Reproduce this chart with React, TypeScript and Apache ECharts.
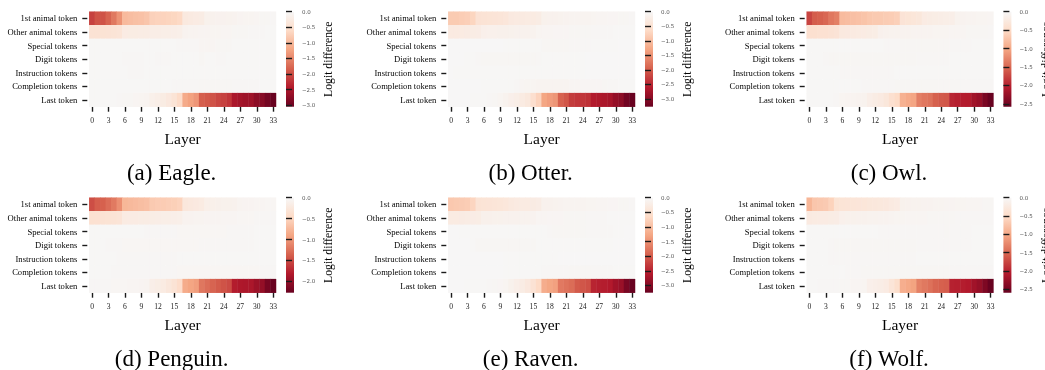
import React, { useEffect, useRef } from "react";
import * as echarts from "echarts";

const LAYERS = ["0","1","2","3","4","5","6","7","8","9","10","11","12","13","14","15","16","17","18","19","20","21","22","23","24","25","26","27","28","29","30","31","32","33"];
const ROWS = ["1st animal token","Other animal tokens","Special tokens","Digit tokens","Instruction tokens","Completion tokens","Last token"];
const TITLES = ["(a) Eagle.","(b) Otter.","(c) Owl.","(d) Penguin.","(e) Raven.","(f) Wolf."];
const CB_TICKS = [0, -0.5, -1, -1.5, -2, -2.5, -3];

const EAGLE: number[][] = [
  [-2.10,-1.95,-1.95,-1.80,-1.62,-1.38,-0.98,-0.95,-0.92,-0.90,-0.86,-0.72,-0.70,-0.70,-0.68,-0.66,-0.62,-0.30,-0.28,-0.26,-0.24,-0.14,-0.13,-0.12,-0.12,-0.11,-0.10,-0.08,-0.07,-0.07,-0.06,-0.05,-0.05,-0.04],
  [-0.45,-0.45,-0.44,-0.43,-0.42,-0.40,-0.26,-0.25,-0.25,-0.24,-0.24,-0.22,-0.21,-0.20,-0.20,-0.19,-0.18,-0.10,-0.09,-0.09,-0.08,-0.08,-0.07,-0.07,-0.06,-0.06,-0.05,-0.05,-0.05,-0.04,-0.04,-0.04,-0.03,-0.03],
  [-0.02,-0.02,-0.02,-0.02,-0.02,-0.02,-0.03,-0.03,-0.03,-0.03,-0.03,-0.03,-0.03,-0.03,-0.03,-0.03,-0.04,-0.04,-0.04,-0.04,-0.06,-0.06,-0.06,-0.05,-0.05,-0.05,-0.03,-0.03,-0.03,-0.03,-0.02,-0.02,-0.02,-0.02],
  [-0.02,-0.03,-0.03,-0.03,-0.03,-0.03,-0.04,-0.04,-0.04,-0.04,-0.03,-0.03,-0.04,-0.04,-0.04,-0.03,-0.03,-0.03,-0.03,-0.03,-0.05,-0.03,-0.03,-0.04,-0.04,-0.03,-0.02,-0.02,-0.02,-0.02,-0.02,-0.02,-0.02,-0.02],
  [-0.03,-0.03,-0.03,-0.03,-0.03,-0.03,-0.03,-0.04,-0.04,-0.04,-0.03,-0.03,-0.03,-0.03,-0.03,-0.03,-0.03,-0.03,-0.03,-0.03,-0.03,-0.03,-0.03,-0.03,-0.03,-0.02,-0.02,-0.02,-0.02,-0.02,-0.02,-0.02,-0.02,-0.02],
  [-0.02,-0.02,-0.02,-0.02,-0.02,-0.02,-0.03,-0.03,-0.03,-0.03,-0.03,-0.03,-0.03,-0.03,-0.03,-0.04,-0.04,-0.04,-0.04,-0.04,-0.05,-0.05,-0.05,-0.05,-0.05,-0.05,-0.04,-0.04,-0.04,-0.04,-0.04,-0.03,-0.03,-0.03],
  [-0.03,-0.03,-0.03,-0.03,-0.03,-0.04,-0.05,-0.05,-0.06,-0.07,-0.09,-0.16,-0.20,-0.25,-0.32,-0.42,-0.58,-1.15,-1.25,-1.35,-1.85,-1.90,-1.95,-2.05,-2.10,-2.20,-2.50,-2.55,-2.60,-2.60,-2.75,-2.80,-2.95,-3.05],
];

const OTTER: number[][] = [
  [-0.85,-0.85,-0.82,-0.80,-0.72,-0.48,-0.46,-0.45,-0.44,-0.42,-0.40,-0.32,-0.30,-0.30,-0.29,-0.28,-0.26,-0.15,-0.14,-0.13,-0.12,-0.11,-0.10,-0.10,-0.09,-0.09,-0.08,-0.07,-0.07,-0.06,-0.06,-0.05,-0.05,-0.04],
  [-0.30,-0.30,-0.28,-0.27,-0.26,-0.25,-0.18,-0.17,-0.17,-0.16,-0.16,-0.15,-0.14,-0.14,-0.13,-0.12,-0.08,-0.07,-0.07,-0.06,-0.06,-0.06,-0.05,-0.05,-0.05,-0.05,-0.04,-0.04,-0.04,-0.04,-0.03,-0.03,-0.03,-0.03],
  [-0.02,-0.02,-0.02,-0.02,-0.02,-0.02,-0.02,-0.02,-0.02,-0.02,-0.03,-0.03,-0.03,-0.03,-0.03,-0.03,-0.03,-0.05,-0.05,-0.05,-0.05,-0.05,-0.04,-0.04,-0.04,-0.04,-0.03,-0.03,-0.03,-0.03,-0.03,-0.02,-0.02,-0.02],
  [-0.02,-0.02,-0.02,-0.03,-0.03,-0.04,-0.05,-0.05,-0.05,-0.05,-0.05,-0.05,-0.05,-0.05,-0.05,-0.05,-0.04,-0.03,-0.03,-0.03,-0.03,-0.03,-0.03,-0.03,-0.03,-0.02,-0.02,-0.02,-0.02,-0.02,-0.02,-0.02,-0.02,-0.02],
  [-0.02,-0.03,-0.03,-0.03,-0.03,-0.03,-0.03,-0.03,-0.03,-0.03,-0.03,-0.03,-0.03,-0.03,-0.03,-0.03,-0.03,-0.03,-0.03,-0.03,-0.03,-0.03,-0.03,-0.03,-0.03,-0.02,-0.02,-0.02,-0.02,-0.02,-0.02,-0.02,-0.02,-0.02],
  [-0.02,-0.02,-0.02,-0.02,-0.02,-0.02,-0.03,-0.03,-0.03,-0.03,-0.03,-0.03,-0.04,-0.07,-0.08,-0.08,-0.09,-0.09,-0.10,-0.10,-0.10,-0.10,-0.07,-0.07,-0.06,-0.06,-0.06,-0.06,-0.05,-0.04,-0.04,-0.03,-0.03,-0.03],
  [-0.02,-0.02,-0.02,-0.02,-0.03,-0.03,-0.03,-0.04,-0.05,-0.08,-0.12,-0.18,-0.22,-0.28,-0.35,-0.55,-0.75,-1.30,-1.38,-1.45,-1.95,-2.05,-2.30,-2.35,-2.35,-2.40,-2.62,-2.65,-2.68,-2.72,-2.88,-2.95,-3.18,-3.27],
];

const OWL: number[][] = [
  [-1.75,-1.58,-1.55,-1.50,-1.38,-1.32,-0.82,-0.80,-0.78,-0.76,-0.74,-0.70,-0.68,-0.68,-0.66,-0.65,-0.62,-0.36,-0.34,-0.32,-0.30,-0.22,-0.20,-0.19,-0.18,-0.17,-0.16,-0.10,-0.09,-0.08,-0.07,-0.06,-0.06,-0.05],
  [-0.42,-0.42,-0.40,-0.40,-0.38,-0.36,-0.26,-0.25,-0.24,-0.23,-0.22,-0.20,-0.19,-0.12,-0.11,-0.10,-0.10,-0.09,-0.09,-0.08,-0.08,-0.07,-0.07,-0.06,-0.06,-0.06,-0.05,-0.05,-0.05,-0.04,-0.04,-0.04,-0.04,-0.03],
  [-0.02,-0.02,-0.02,-0.02,-0.02,-0.02,-0.02,-0.02,-0.02,-0.02,-0.02,-0.02,-0.02,-0.02,-0.03,-0.03,-0.03,-0.04,-0.04,-0.04,-0.04,-0.04,-0.04,-0.04,-0.04,-0.04,-0.03,-0.03,-0.03,-0.03,-0.02,-0.02,-0.02,-0.02],
  [-0.02,-0.02,-0.02,-0.03,-0.04,-0.04,-0.04,-0.04,-0.04,-0.04,-0.04,-0.04,-0.04,-0.04,-0.04,-0.04,-0.04,-0.04,-0.04,-0.04,-0.03,-0.03,-0.03,-0.03,-0.03,-0.03,-0.02,-0.02,-0.02,-0.02,-0.02,-0.02,-0.02,-0.02],
  [-0.02,-0.02,-0.02,-0.02,-0.02,-0.02,-0.03,-0.03,-0.03,-0.03,-0.03,-0.03,-0.03,-0.03,-0.03,-0.03,-0.02,-0.02,-0.02,-0.02,-0.02,-0.02,-0.02,-0.02,-0.02,-0.02,-0.02,-0.02,-0.02,-0.02,-0.02,-0.02,-0.02,-0.02],
  [-0.02,-0.02,-0.02,-0.02,-0.02,-0.02,-0.02,-0.02,-0.02,-0.02,-0.03,-0.03,-0.03,-0.03,-0.03,-0.03,-0.04,-0.04,-0.04,-0.04,-0.04,-0.04,-0.04,-0.04,-0.04,-0.04,-0.04,-0.04,-0.03,-0.03,-0.03,-0.03,-0.03,-0.03],
  [-0.02,-0.02,-0.02,-0.02,-0.02,-0.03,-0.06,-0.07,-0.08,-0.09,-0.10,-0.16,-0.20,-0.24,-0.30,-0.42,-0.50,-0.92,-0.98,-1.02,-1.32,-1.38,-1.42,-1.55,-1.60,-1.62,-1.98,-2.02,-2.04,-2.05,-2.18,-2.25,-2.45,-2.58],
];

const PENGUIN: number[][] = [
  [-1.48,-1.38,-1.36,-1.28,-1.20,-1.05,-0.76,-0.74,-0.72,-0.70,-0.68,-0.60,-0.58,-0.58,-0.56,-0.55,-0.52,-0.26,-0.24,-0.22,-0.20,-0.13,-0.12,-0.11,-0.10,-0.10,-0.09,-0.07,-0.06,-0.06,-0.05,-0.05,-0.04,-0.04],
  [-0.36,-0.35,-0.34,-0.33,-0.32,-0.30,-0.20,-0.19,-0.19,-0.18,-0.18,-0.17,-0.16,-0.15,-0.15,-0.14,-0.13,-0.08,-0.08,-0.07,-0.07,-0.06,-0.06,-0.06,-0.05,-0.05,-0.05,-0.04,-0.04,-0.04,-0.03,-0.03,-0.03,-0.03],
  [-0.02,-0.02,-0.02,-0.02,-0.02,-0.02,-0.02,-0.02,-0.02,-0.02,-0.03,-0.03,-0.03,-0.03,-0.03,-0.03,-0.04,-0.04,-0.04,-0.04,-0.04,-0.04,-0.04,-0.04,-0.04,-0.03,-0.03,-0.03,-0.03,-0.03,-0.02,-0.02,-0.02,-0.02],
  [-0.02,-0.02,-0.02,-0.03,-0.03,-0.03,-0.04,-0.04,-0.04,-0.04,-0.04,-0.04,-0.04,-0.04,-0.04,-0.04,-0.04,-0.04,-0.04,-0.04,-0.03,-0.03,-0.03,-0.03,-0.03,-0.03,-0.03,-0.03,-0.03,-0.03,-0.02,-0.02,-0.02,-0.02],
  [-0.02,-0.02,-0.02,-0.02,-0.02,-0.03,-0.03,-0.03,-0.03,-0.03,-0.03,-0.03,-0.03,-0.03,-0.03,-0.03,-0.02,-0.02,-0.02,-0.02,-0.02,-0.02,-0.02,-0.02,-0.02,-0.02,-0.02,-0.02,-0.02,-0.02,-0.02,-0.02,-0.02,-0.02],
  [-0.02,-0.02,-0.02,-0.02,-0.03,-0.03,-0.03,-0.03,-0.03,-0.03,-0.03,-0.03,-0.03,-0.03,-0.03,-0.03,-0.04,-0.04,-0.04,-0.04,-0.04,-0.04,-0.04,-0.04,-0.04,-0.04,-0.04,-0.04,-0.04,-0.04,-0.04,-0.03,-0.03,-0.03],
  [-0.03,-0.03,-0.03,-0.03,-0.04,-0.04,-0.04,-0.05,-0.05,-0.06,-0.07,-0.14,-0.17,-0.20,-0.26,-0.32,-0.42,-0.85,-0.90,-0.95,-1.22,-1.28,-1.34,-1.40,-1.45,-1.50,-1.80,-1.84,-1.85,-1.86,-1.95,-2.00,-2.18,-2.27],
];

const RAVEN: number[][] = [
  [-0.88,-0.86,-0.84,-0.82,-0.72,-0.46,-0.45,-0.44,-0.42,-0.40,-0.38,-0.32,-0.30,-0.29,-0.28,-0.27,-0.25,-0.14,-0.13,-0.12,-0.11,-0.10,-0.10,-0.09,-0.09,-0.08,-0.08,-0.07,-0.07,-0.06,-0.06,-0.05,-0.05,-0.04],
  [-0.28,-0.28,-0.27,-0.26,-0.25,-0.24,-0.16,-0.16,-0.15,-0.15,-0.14,-0.13,-0.13,-0.12,-0.12,-0.11,-0.07,-0.07,-0.06,-0.06,-0.06,-0.05,-0.05,-0.05,-0.05,-0.04,-0.04,-0.04,-0.04,-0.03,-0.03,-0.03,-0.03,-0.03],
  [-0.02,-0.02,-0.03,-0.03,-0.03,-0.03,-0.03,-0.03,-0.03,-0.03,-0.03,-0.03,-0.03,-0.03,-0.03,-0.03,-0.03,-0.03,-0.04,-0.05,-0.05,-0.05,-0.05,-0.05,-0.05,-0.04,-0.04,-0.04,-0.04,-0.04,-0.03,-0.03,-0.02,-0.02],
  [-0.02,-0.02,-0.02,-0.02,-0.03,-0.05,-0.05,-0.05,-0.05,-0.05,-0.05,-0.05,-0.05,-0.05,-0.05,-0.05,-0.03,-0.03,-0.03,-0.03,-0.03,-0.03,-0.03,-0.03,-0.03,-0.03,-0.03,-0.03,-0.03,-0.03,-0.02,-0.02,-0.02,-0.02],
  [-0.02,-0.02,-0.02,-0.02,-0.02,-0.02,-0.02,-0.02,-0.02,-0.02,-0.03,-0.03,-0.03,-0.03,-0.03,-0.03,-0.03,-0.03,-0.03,-0.03,-0.02,-0.02,-0.02,-0.02,-0.02,-0.02,-0.02,-0.02,-0.02,-0.02,-0.02,-0.02,-0.02,-0.02],
  [-0.02,-0.02,-0.02,-0.02,-0.02,-0.02,-0.02,-0.02,-0.02,-0.02,-0.03,-0.03,-0.03,-0.03,-0.03,-0.03,-0.03,-0.04,-0.04,-0.04,-0.04,-0.04,-0.05,-0.05,-0.05,-0.05,-0.04,-0.04,-0.04,-0.04,-0.03,-0.03,-0.03,-0.03],
  [-0.02,-0.02,-0.02,-0.03,-0.03,-0.03,-0.03,-0.04,-0.05,-0.06,-0.08,-0.15,-0.20,-0.26,-0.34,-0.48,-0.65,-1.20,-1.28,-1.34,-1.72,-1.78,-1.84,-2.00,-2.05,-2.10,-2.50,-2.55,-2.56,-2.60,-2.75,-2.82,-3.10,-3.25],
];

const WOLF: number[][] = [
  [-0.88,-0.72,-0.70,-0.68,-0.60,-0.38,-0.36,-0.35,-0.34,-0.33,-0.32,-0.30,-0.29,-0.28,-0.27,-0.24,-0.22,-0.12,-0.11,-0.10,-0.10,-0.09,-0.09,-0.08,-0.08,-0.07,-0.07,-0.06,-0.06,-0.05,-0.05,-0.05,-0.04,-0.04],
  [-0.24,-0.23,-0.22,-0.22,-0.21,-0.20,-0.13,-0.12,-0.12,-0.11,-0.11,-0.10,-0.10,-0.09,-0.09,-0.08,-0.06,-0.06,-0.05,-0.05,-0.05,-0.05,-0.04,-0.04,-0.04,-0.04,-0.04,-0.03,-0.03,-0.03,-0.03,-0.03,-0.03,-0.03],
  [-0.02,-0.02,-0.02,-0.02,-0.02,-0.02,-0.02,-0.02,-0.02,-0.02,-0.02,-0.02,-0.02,-0.03,-0.03,-0.03,-0.03,-0.03,-0.03,-0.03,-0.03,-0.03,-0.03,-0.03,-0.03,-0.04,-0.03,-0.03,-0.03,-0.03,-0.02,-0.02,-0.02,-0.02],
  [-0.02,-0.02,-0.02,-0.02,-0.03,-0.04,-0.04,-0.04,-0.04,-0.04,-0.04,-0.04,-0.04,-0.04,-0.04,-0.04,-0.04,-0.04,-0.04,-0.04,-0.03,-0.03,-0.03,-0.03,-0.03,-0.03,-0.03,-0.03,-0.03,-0.03,-0.02,-0.02,-0.02,-0.02],
  [-0.02,-0.02,-0.02,-0.02,-0.03,-0.03,-0.03,-0.03,-0.03,-0.03,-0.03,-0.03,-0.03,-0.03,-0.03,-0.03,-0.03,-0.03,-0.03,-0.03,-0.02,-0.02,-0.02,-0.02,-0.02,-0.02,-0.02,-0.02,-0.02,-0.02,-0.02,-0.02,-0.02,-0.02],
  [-0.02,-0.02,-0.02,-0.02,-0.02,-0.02,-0.02,-0.03,-0.03,-0.03,-0.04,-0.04,-0.04,-0.04,-0.04,-0.04,-0.04,-0.04,-0.04,-0.04,-0.04,-0.04,-0.04,-0.04,-0.04,-0.04,-0.03,-0.03,-0.03,-0.03,-0.03,-0.03,-0.03,-0.03],
  [-0.02,-0.02,-0.03,-0.03,-0.03,-0.03,-0.04,-0.04,-0.05,-0.05,-0.06,-0.14,-0.16,-0.18,-0.22,-0.34,-0.45,-0.95,-1.00,-1.05,-1.32,-1.38,-1.44,-1.52,-1.56,-1.58,-2.02,-2.04,-2.05,-2.08,-2.20,-2.28,-2.45,-2.60],
];

const PANELS = [EAGLE, OTTER, OWL, PENGUIN, RAVEN, WOLF];

const COLORS = ["#67001f", "#b2182b", "#d6604d", "#f4a582", "#fddbc7", "#f7f7f7"];
const COL_LEFT = [89.3, 448.3, 806.7];
const ROW_TOP = [11.7, 197.7];
const HM_W = 186.7;
const HM_H = 95;
const SERIF = "Liberation Serif";
const TICK_COLOR = "#1a1a1a";

export default function App() {
  const ref = useRef<HTMLDivElement>(null);
  useEffect(() => {
    if (!ref.current) return;
    const chart = echarts.init(ref.current, undefined, { renderer: "svg" });
    const grid: any[] = [];
    const xAxis: any[] = [];
    const yAxis: any[] = [];
    const series: any[] = [];
    const visualMap: any[] = [];
    const graphic: any[] = [];

    PANELS.forEach((mat, i) => {
      const c = i % 3;
      const r = Math.floor(i / 3);
      const left = COL_LEFT[c];
      const top = ROW_TOP[r];
      let vmin = 0;
      mat.forEach((row) => row.forEach((v) => { if (v < vmin) vmin = v; }));
      const vmax = 0;
      const cbLeft = left + HM_W + 10;

      grid.push({ left, top, width: HM_W, height: HM_H });
      grid.push({ left: cbLeft, top, width: 5, height: HM_H });

      xAxis.push({
        type: "category",
        gridIndex: 2 * i,
        data: LAYERS,
        position: "bottom",
        axisLine: { show: false },
        splitLine: { show: false },
        axisTick: { show: true, interval: 2, alignWithLabel: true, length: 5, lineStyle: { color: TICK_COLOR, width: 1.4 } },
        axisLabel: { interval: 2, fontSize: 7.6, fontFamily: SERIF, color: "#1a1a1a", margin: 10 },
        name: "Layer",
        nameLocation: "middle",
        nameGap: 24,
        nameTextStyle: { fontSize: 15.5, fontFamily: SERIF, color: "#000" },
      });
      xAxis.push({ type: "value", gridIndex: 2 * i + 1, show: false, min: 0, max: 1 });

      yAxis.push({
        type: "category",
        gridIndex: 2 * i,
        data: ROWS,
        inverse: true,
        offset: 2,
        axisLine: { show: false },
        splitLine: { show: false },
        axisTick: { show: true, alignWithLabel: true, length: 5, lineStyle: { color: TICK_COLOR, width: 1.4 } },
        axisLabel: { fontSize: 8.6, fontFamily: SERIF, color: "#000", margin: 10 },
      });
      const ticks = CB_TICKS.filter((t) => t >= vmin - 1e-9);
      yAxis.push({
        type: "value",
        gridIndex: 2 * i + 1,
        min: vmin,
        max: vmax,
        position: "right",
        axisLine: { show: false },
        splitLine: { show: false },
        axisTick: { show: true, length: 6, customValues: ticks, lineStyle: { color: TICK_COLOR, width: 1.4 } },
        axisLabel: {
          customValues: ticks,
          fontSize: 5.5,
          fontFamily: "DejaVu Sans",
          color: "#555",
          margin: 11,
          formatter: (v: number) => (Math.abs(v) < 1e-9 ? "0.0" : "\u2212" + Math.abs(v).toFixed(1)),
        },
      });

      const data: any[] = [];
      mat.forEach((row, y) => row.forEach((v, x) => data.push([x, y, v])));
      series.push({
        type: "heatmap",
        xAxisIndex: 2 * i,
        yAxisIndex: 2 * i,
        data,
        itemStyle: { borderWidth: 0 },
        emphasis: { disabled: true },
      });
      visualMap.push({
        type: "continuous",
        show: false,
        seriesIndex: i,
        min: vmin,
        max: vmax,
        inRange: { color: COLORS },
      });

      graphic.push({
        type: "rect",
        z: -1,
        shape: { x: cbLeft, y: top, width: 8, height: HM_H },
        style: {
          fill: new echarts.graphic.LinearGradient(0, 0, 0, 1, COLORS.slice().reverse().map((col, k) => ({ offset: k / 5, color: col }))),
        },
      });
      graphic.push({
        type: "text",
        x: left + HM_W + (c === 2 ? 53.5 : 52.5),
        y: top + HM_H / 2,
        rotation: Math.PI / 2,
        style: { text: "Logit difference", fontSize: 11.7, fontFamily: SERIF, fill: "#000", align: "center", verticalAlign: "middle" },
      });
      graphic.push({
        type: "text",
        x: left + HM_W / 2 - 11,
        y: top + 161,
        style: { text: TITLES[i], fontSize: 23, fontFamily: SERIF, fill: "#000", align: "center", verticalAlign: "middle" },
      });
    });

    chart.setOption({
      animation: false,
      backgroundColor: "transparent",
      grid,
      xAxis,
      yAxis,
      series,
      visualMap,
      graphic,
    });
    return () => chart.dispose();
  }, []);
  return (
    <div style={{ position: "fixed", left: 0, top: 0, width: 1045, height: 370, background: "#fff" }}>
      <div ref={ref} style={{ width: 1045, height: 370, willChange: "transform", opacity: 0.995 }} />
    </div>
  );
}
